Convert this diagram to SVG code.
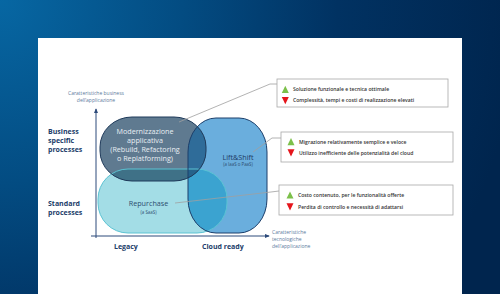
<svg xmlns="http://www.w3.org/2000/svg" width="500" height="294" viewBox="0 0 500 294">
<defs>
<radialGradient id="bg" gradientUnits="userSpaceOnUse" cx="0" cy="0" r="520">
<stop offset="0" stop-color="#0767a3"/>
<stop offset="0.35" stop-color="#034c82"/>
<stop offset="0.65" stop-color="#013262"/>
<stop offset="1" stop-color="#00254e"/>
</radialGradient>
<clipPath id="cTeal"><rect x="98" y="169" width="129" height="64" rx="30" ry="30"/></clipPath>
<clipPath id="cBlue"><rect x="188" y="118" width="79" height="115" rx="28" ry="34"/></clipPath>
<clipPath id="cGray"><rect x="100" y="117" width="106" height="64" rx="32" ry="30"/></clipPath>
<marker id="arr" viewBox="0 0 6 6" refX="5" refY="3" markerWidth="5" markerHeight="5" orient="auto-start-reverse" markerUnits="userSpaceOnUse">
<path d="M0,0.5 L6,3 L0,5.5 Z" fill="#2c4a7a"/>
</marker>
</defs>
<style>
.lbl{font-family:"Open Sans","Liberation Sans",sans-serif;font-weight:700;font-size:7px;fill:#213c69}
.sm{font-family:"Open Sans","Liberation Sans",sans-serif;font-size:5px;fill:#5b7a9c}
.in{font-family:"Open Sans","Liberation Sans",sans-serif;font-size:7.2px;text-anchor:middle}
.tiny{font-family:"Open Sans","Liberation Sans",sans-serif;font-size:4.4px;text-anchor:middle;fill:#2d4d70}
.bx{fill:#ffffff;stroke:#a8a8a8;stroke-width:0.8}
.bt{font-family:"Open Sans","Liberation Sans",sans-serif;font-weight:600;font-size:5.1px;fill:#333333}
.up{fill:#7cc04a}
.dn{fill:#e5141b}
.ld{fill:none;stroke:#a0a0a0;stroke-width:0.8}
.ax{stroke:#2c4a7a;stroke-width:1;fill:none}
</style>
<rect x="0" y="0" width="500" height="294" fill="url(#bg)"/>
<rect x="38" y="38" width="424" height="256" fill="#ffffff"/>

<g id="axes">
<line class="ax" x1="96" y1="238" x2="96" y2="109" marker-end="url(#arr)"/>
<line class="ax" x1="91" y1="236" x2="269" y2="236" marker-end="url(#arr)"/>
<text class="sm" x="96" y="95.2" text-anchor="middle">Caratteristiche business</text>
<text class="sm" x="96" y="102.2" text-anchor="middle">dell’applicazione</text>
<text class="sm" x="272" y="234">Caratteristiche</text>
<text class="sm" x="272" y="240.8">tecnologiche</text>
<text class="sm" x="272" y="247.6">dell’applicazione</text>
<text class="lbl" x="48" y="134">Business</text>
<text class="lbl" x="48" y="143">specific</text>
<text class="lbl" x="48" y="152">processes</text>
<text class="lbl" x="48" y="206">Standard</text>
<text class="lbl" x="48" y="215">processes</text>
<text class="lbl" x="114" y="249">Legacy</text>
<text class="lbl" x="202" y="249">Cloud ready</text>
</g>

<g id="shapes">
<rect x="98" y="169" width="129" height="64" rx="30" ry="30" fill="#a3dde6"/>
<rect x="188" y="118" width="79" height="115" rx="28" ry="34" fill="#6aaedd"/>
<rect x="100" y="117" width="106" height="64" rx="32" ry="30" fill="#5f7a90"/>
<g clip-path="url(#cTeal)"><rect x="188" y="118" width="79" height="115" rx="28" ry="34" fill="#3ba3d0"/></g>
<g clip-path="url(#cGray)"><rect x="188" y="118" width="79" height="115" rx="28" ry="34" fill="#2f6c99"/>
<rect x="98" y="169" width="129" height="64" rx="30" ry="30" fill="#3f7187"/></g>
<g clip-path="url(#cGray)"><g clip-path="url(#cTeal)"><rect x="188" y="118" width="79" height="115" rx="28" ry="34" fill="#25628a"/></g></g>
<rect x="98" y="169" width="129" height="64" rx="30" ry="30" fill="none" stroke="#5cc3d3" stroke-width="1"/>
<rect x="188" y="118" width="79" height="115" rx="28" ry="34" fill="none" stroke="#1c3f6b" stroke-width="1"/>
<rect x="100" y="117" width="106" height="64" rx="32" ry="30" fill="none" stroke="#1f3a5a" stroke-width="1"/>
</g>

<g id="connectors">
<polyline class="ld" points="179,122 270,84 277,84"/>
<polyline class="ld" points="253,152 272,138 281,138"/>
<polyline class="ld" points="175,203 271,192 279,191"/>
</g>

<g id="node-modernizzazione">
<text class="in" x="145" y="134" fill="#e8eef3">Modernizzazione</text>
<text class="in" x="145" y="143" fill="#e8eef3">applicativa</text>
<text class="in" x="145" y="152" fill="#e8eef3">(Rebuild, Refactoring</text>
<text class="in" x="145" y="161" fill="#e8eef3">o Replatforming)</text>
</g>
<g id="node-liftshift">
<text class="in" x="238" y="160" fill="#1f3c66">Lift&amp;Shift</text>
<text class="tiny" x="238" y="166">(a IaaS o PaaS)</text>
</g>
<g id="node-repurchase">
<text class="in" x="148.5" y="206" fill="#2d4d70">Repurchase</text>
<text class="tiny" x="148.5" y="214">(a SaaS)</text>
</g>

<g id="box-1">
<rect class="bx" x="277" y="79" width="171" height="28"/>
<polygon class="up" points="281.8,93 288.8,93 285.3,85.8"/>
<polygon class="dn" points="281.8,97 288.8,97 285.3,104.2"/>
<text class="bt" x="293" y="91.3">Soluzione funzionale e tecnica ottimale</text>
<text class="bt" x="293" y="102.3">Complessità, tempi e costi di realizzazione elevati</text>
</g>
<g id="box-2">
<rect class="bx" x="281" y="132" width="172" height="30"/>
<polygon class="up" points="287.5,145.3 294.5,145.3 291,138.1"/>
<polygon class="dn" points="287.5,149.2 294.5,149.2 291,156.4"/>
<text class="bt" x="299" y="143.6">Migrazione relativamente semplice e veloce</text>
<text class="bt" x="299" y="154.6">Utilizzo inefficiente delle potenzialità del cloud</text>
</g>
<g id="box-3">
<rect class="bx" x="279" y="185" width="174" height="30"/>
<polygon class="up" points="286.5,198.6 293.5,198.6 290,191.4"/>
<polygon class="dn" points="286.5,203.2 293.5,203.2 290,210.4"/>
<text class="bt" x="298" y="196.8">Costo contenuto, per le funzionalità offerte</text>
<text class="bt" x="298" y="208.5">Perdita di controllo e necessità di adattarsi</text>
</g>
</svg>
